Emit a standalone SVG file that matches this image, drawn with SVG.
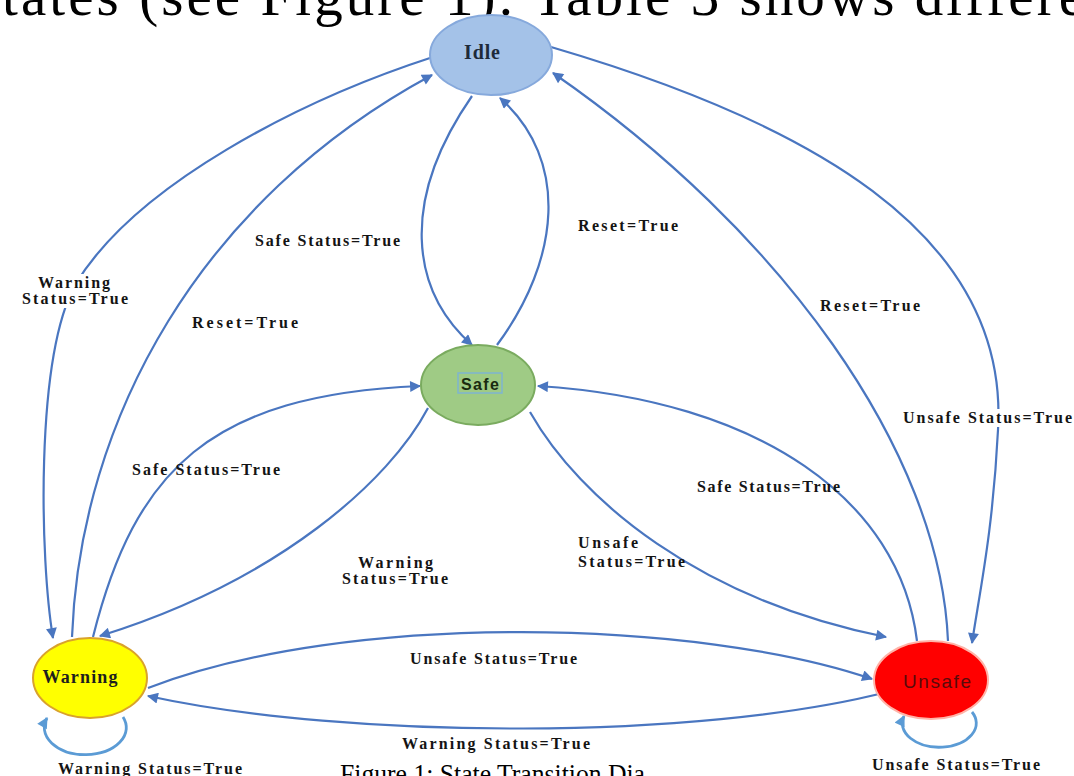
<svg xmlns="http://www.w3.org/2000/svg" width="1074" height="776" viewBox="0 0 1074 776">
<defs>
<style>
.edge{fill:none;stroke:#4a76c0;stroke-width:2.2}
.loop{fill:none;stroke:#5b9bd5;stroke-width:2.8}
.lbl{font-family:"Liberation Serif","Times New Roman",serif;font-weight:bold;font-size:16px;fill:#141414}
.bg{fill:#fff}
.page{font-family:"Liberation Serif","Times New Roman",serif;fill:#000}
</style>
<marker id="arr" viewBox="0 0 10 10" refX="9" refY="5" markerWidth="13" markerHeight="11" markerUnits="userSpaceOnUse" orient="auto">
<path d="M0,0 L10,5 L0,10 z" fill="#4a76c0"/>
</marker>
<marker id="arrL" viewBox="0 0 10 10" refX="9" refY="5" markerWidth="13" markerHeight="11" markerUnits="userSpaceOnUse" orient="auto">
<path d="M0,0 L10,5 L0,10 z" fill="#5b9bd5"/>
</marker>
</defs>
<rect width="1074" height="776" fill="#fff"/>
<text class="page" x="2" y="15" font-size="57" textLength="1082" lengthAdjust="spacing">tates (see Figure 1). Table 3 shows differe</text>
<text class="page" x="340" y="783" font-size="27" textLength="305" lengthAdjust="spacingAndGlyphs">Figure 1: State Transition Dia</text>

<g id="connectors">
<path class="edge" marker-end="url(#arr)" d="M433,57 C300,100 135,185 75,285 C35,360 40,560 53,638"/>
<path class="edge" marker-end="url(#arr)" d="M72,637 C80,420 200,200 432,75"/>
<path class="edge" marker-end="url(#arr)" d="M472,96 C400,200 410,290 472,345"/>
<path class="edge" marker-end="url(#arr)" d="M497,345 C560,260 570,160 500,98"/>
<path class="edge" marker-end="url(#arr)" d="M948,641 C940,450 780,230 553,73"/>
<path class="edge" marker-end="url(#arr)" d="M551,47 C800,120 1010,230 998,430 C993,530 980,590 972,643"/>
<path class="edge" marker-end="url(#arr)" d="M93,637 C135,470 210,395 420,386"/>
<path class="edge" marker-end="url(#arr)" d="M428,408 C390,480 280,580 100,636"/>
<path class="edge" marker-end="url(#arr)" d="M530,412 C580,500 700,600 886,637"/>
<path class="edge" marker-end="url(#arr)" d="M917,641 C900,500 760,400 538,386"/>
<path class="edge" marker-end="url(#arr)" d="M148,688 C350,610 700,620 872,679"/>
<path class="edge" marker-end="url(#arr)" d="M887,692 C700,740 350,740 148,696"/>
<path class="loop" marker-end="url(#arrL)" d="M123,717 A41,27 0 1 1 47,718"/>
<path class="loop" marker-end="url(#arrL)" d="M972,712 A37,24 0 1 1 904,716"/>
</g>

<g id="labels">
<rect class="bg" x="20" y="274" width="110" height="34"/>
<rect class="bg" x="900" y="409" width="174" height="18"/>
<text class="lbl" x="38" y="288" textLength="72" lengthAdjust="spacing">Warning</text>
<text class="lbl" x="22" y="304" textLength="106" lengthAdjust="spacing">Status=True</text>
<text class="lbl" x="192" y="328" textLength="106" lengthAdjust="spacing">Reset=True</text>
<text class="lbl" x="255" y="246" textLength="145" lengthAdjust="spacing">Safe Status=True</text>
<text class="lbl" x="578" y="231" textLength="100" lengthAdjust="spacing">Reset=True</text>
<text class="lbl" x="820" y="311" textLength="100" lengthAdjust="spacing">Reset=True</text>
<text class="lbl" x="903" y="423" textLength="169" lengthAdjust="spacing">Unsafe Status=True</text>
<text class="lbl" x="132" y="475" textLength="148" lengthAdjust="spacing">Safe Status=True</text>
<text class="lbl" x="358" y="568" textLength="75" lengthAdjust="spacing">Warning</text>
<text class="lbl" x="342" y="584" textLength="106" lengthAdjust="spacing">Status=True</text>
<text class="lbl" x="697" y="492" textLength="143" lengthAdjust="spacing">Safe Status=True</text>
<text class="lbl" x="578" y="548" textLength="60" lengthAdjust="spacing">Unsafe</text>
<text class="lbl" x="578" y="567" textLength="107" lengthAdjust="spacing">Status=True</text>
<text class="lbl" x="410" y="664" textLength="167" lengthAdjust="spacing">Unsafe Status=True</text>
<text class="lbl" x="402" y="749" textLength="188" lengthAdjust="spacing">Warning Status=True</text>
<text class="lbl" x="58" y="774" textLength="184" lengthAdjust="spacing">Warning Status=True</text>
<text class="lbl" x="872" y="770" textLength="168" lengthAdjust="spacing">Unsafe Status=True</text>
</g>

<g id="idle">
<ellipse cx="491" cy="55" rx="61" ry="40" fill="#a4c2e8" stroke="#86a9dc" stroke-width="2"/>
<text x="482" y="59" text-anchor="middle" font-family="Liberation Serif,serif" font-weight="bold" font-size="20" textLength="36" fill="#1e2a3a">Idle</text>
</g>
<g id="safe">
<ellipse cx="478" cy="385" rx="57" ry="40" fill="#9fcb85" stroke="#7aab5f" stroke-width="2"/>
<rect x="458" y="373" width="44" height="20" fill="none" stroke="#7fb5d0" stroke-width="1.5"/>
<text x="480" y="390" text-anchor="middle" font-family="Liberation Sans,sans-serif" font-weight="bold" font-size="16" textLength="38" fill="#1a2a10">Safe</text>
</g>
<g id="warning">
<ellipse cx="90" cy="678" rx="57" ry="40" fill="#ffff00" stroke="#d9a22c" stroke-width="2"/>
<text x="80" y="683" text-anchor="middle" font-family="Liberation Serif,serif" font-weight="bold" font-size="18" textLength="75" fill="#1e1e1e">Warning</text>
</g>
<g id="unsafe">
<ellipse cx="931" cy="680" rx="57" ry="39" fill="#ff0000" stroke="#ffb3a8" stroke-width="2"/>
<text x="937" y="688" text-anchor="middle" font-family="Liberation Sans,sans-serif" font-size="19" textLength="68" fill="#5a0a0a">Unsafe</text>
</g>
</svg>
